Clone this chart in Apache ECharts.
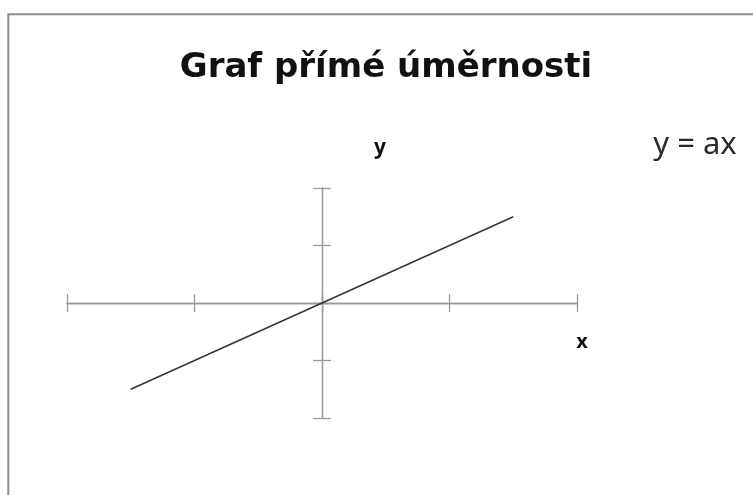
<!DOCTYPE html>
<html>
<head>
<meta charset="utf-8">
<script src="https://cdn.jsdelivr.net/npm/echarts@6/dist/echarts.min.js"></script>
<style>
  html, body { margin: 0; padding: 0; background: #fff; }
  #main { width: 753px; height: 495px; }
</style>
</head>
<body>
<div id="main"></div>
<script>
// line y = ax, drawn from x = -1.5 to 1.5
var lineX = [-1.5, 1.5];
var lineY = [-1.5, 1.5];
var axisMin = -2;
var axisMax = 2;
var axisStep = 1;

var titleText = 'Graf přímé úměrnosti';
var formulaText = 'y = ax';

var points = [];
for (var i = 0; i < lineX.length; i++) {
    points.push([lineX[i], lineY[i]]);
}

var axisGray = '#9a9a9a';

// two axes per direction so the ticks cross the line on both sides
function makeAxis(pos) {
    return {
        type: 'value',
        position: pos,
        min: axisMin,
        max: axisMax,
        interval: axisStep,
        axisLine: { show: true, onZero: true, onZeroAxisIndex: 0, lineStyle: { color: axisGray, width: 1.3 } },
        axisTick: { show: true, length: 9, lineStyle: { color: axisGray, width: 1.3 } },
        axisLabel: { show: false },
        splitLine: { show: false }
    };
}

var myChart = echarts.init(document.getElementById('main'));
myChart.setOption({
    backgroundColor: '#ffffff',
    animation: false,
    grid: { left: 67, top: 188, width: 510, height: 230 },
    xAxis: [makeAxis('bottom'), makeAxis('top')],
    yAxis: [makeAxis('left'), makeAxis('right')],
    series: [{
        type: 'line',
        data: points,
        showSymbol: false,
        lineStyle: { color: '#333333', width: 1.4 }
    }],
    graphic: [
        {
            type: 'rect',
            shape: { x: 8.3, y: 14.3, width: 800, height: 600 },
            style: { fill: 'none', stroke: '#8c8c8c', lineWidth: 2 }
        },
        {
            type: 'text',
            x: 386, y: 68,
            style: {
                text: titleText,
                font: 'bold 34px "DejaVu Sans", "Noto Sans", sans-serif',
                fill: '#111',
                textAlign: 'center',
                textVerticalAlign: 'middle'
            }
        },
        {
            type: 'text',
            x: 380, y: 148,
            style: {
                text: 'y',
                font: 'bold 21px "Noto Sans", sans-serif',
                fill: '#111',
                textAlign: 'center',
                textVerticalAlign: 'middle'
            }
        },
        {
            type: 'text',
            x: 582, y: 342,
            style: {
                text: 'x',
                font: 'bold 20px "Noto Sans", sans-serif',
                fill: '#111',
                textAlign: 'center',
                textVerticalAlign: 'middle'
            }
        },
        {
            type: 'text',
            x: 695, y: 145,
            style: {
                text: formulaText,
                font: '31px "Noto Sans", sans-serif',
                fill: '#2a2a2a',
                textAlign: 'center',
                textVerticalAlign: 'middle'
            }
        }
    ]
});
</script>
</body>
</html>
